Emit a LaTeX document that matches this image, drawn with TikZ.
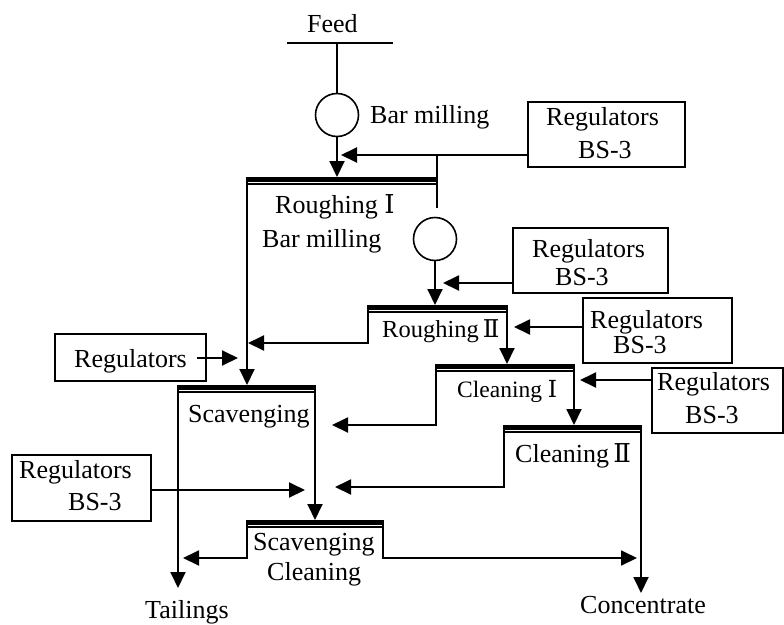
\documentclass[tikz,border=0pt]{standalone}
\usepackage{fontspec}
\setmainfont{Liberation Serif}
\newfontfamily\romfont{DejaVu Serif}
\usetikzlibrary{arrows.meta}
\newcommand\flotcell[4]{%
  \coordinate (#1l) at (#2,#4);
  \coordinate (#1r) at (#3,#4);
  \fill (#2-0.9,#4) rectangle (#3+0.9,#4+5);
  \draw[thinbar] (#2,#4+7) -- (#3,#4+7);}
\begin{document}
\begin{tikzpicture}[x=1pt,y=-1pt,
  flow/.style={line width=1.9pt},
  arr/.style={flow,-{Triangle[length=16pt,width=15pt]}},
  lbl/.style={anchor=base west,inner sep=0pt,font=\fontsize{26}{30}\selectfont},
  slbl/.style={lbl,font=\fontsize{24.5}{28}\selectfont},
  regbox/.style={draw,line width=1.9pt,inner sep=0pt},
  mill/.style={draw,circle,line width=1.6pt,minimum size=43pt,inner sep=0pt},
  thinbar/.style={line width=1.2pt}]
\useasboundingbox (0,0) rectangle (784,624);

% feed
\coordinate (fl) at (287,43); \coordinate (fr) at (393,43); \coordinate (ftop) at (337,43);
\draw[flow] (fl) -- (fr);
\node[lbl] (tfeed) at (307,32) {Feed};
\node[mill] (m1) at (337,115) {};
\draw[flow] (ftop) -- (m1.north);
\node[lbl] (tbm1) at (370,123) {Bar milling};

% cells
\flotcell{r1}{247}{437}{177}
\flotcell{r2}{368}{507}{305}
\flotcell{c1}{436}{574}{364}
\flotcell{c2}{504}{641}{425}
\flotcell{s}{178}{315}{385}
\flotcell{sc}{247}{383}{520}

\node[lbl] (tr1) at (275,213) {Roughing {\romfont Ⅰ}};
\node[lbl] (tbm2) at (262,247) {Bar milling};
\node[slbl] (tr2) at (382,337) {Roughing\,{\romfont Ⅱ}};
\node[slbl,font=\fontsize{23.5}{27}\selectfont] (tc1) at (457,397) {Cleaning {\romfont Ⅰ}};
\node[lbl] (tc2) at (515,462) {Cleaning\,{\romfont Ⅱ}};
\node[lbl] (ts) at (188,422) {Scavenging};
\node[lbl] (tsc1) at (253,550) {Scavenging};
\node[lbl] (tsc2) at (267,580) {Cleaning};
\node[lbl] (ttail) at (145,618) {Tailings};
\node[lbl] (tconc) at (580,613) {Concentrate};

% regulator boxes
\node[regbox,minimum width=157pt,minimum height=65pt] (b1) at (606.5,134.5) {};
\node[lbl] (b1a) at (546,125) {Regulators};
\node[lbl] (b1b) at (578,158) {BS-3};
\node[regbox,minimum width=155pt,minimum height=65pt] (b2) at (590.5,260.5) {};
\node[lbl] (b2a) at (532,257) {Regulators};
\node[lbl] (b2b) at (555,285) {BS-3};
\node[regbox,minimum width=149pt,minimum height=65pt] (b3) at (657.5,330.5) {};
\node[lbl] (b3a) at (590,328) {Regulators};
\node[lbl] (b3b) at (613,353) {BS-3};
\node[regbox,minimum width=131pt,minimum height=65pt] (b4) at (717.5,400.5) {};
\node[lbl] (b4a) at (657,390) {Regulators};
\node[lbl] (b4b) at (685,423) {BS-3};
\node[regbox,minimum width=151pt,minimum height=47pt] (b0) at (130.5,357.5) {};
\node[lbl] (b0a) at (74,367) {Regulators};
\node[regbox,minimum width=139pt,minimum height=66pt] (b5) at (81.5,488) {};
\node[lbl] (b5a) at (19,478) {Regulators};
\node[lbl] (b5b) at (68,510) {BS-3};

% roughing I feed
\coordinate (r1in) at (337,177);
\draw[arr] (m1.south) -- (r1in);
\coordinate (b1o) at (528,155); \coordinate (b1t) at (341,155);
\draw[arr] (b1o) -- (b1t);
\coordinate (r1rt) at (437,155); \coordinate (r1rb) at (437,208);
\draw[flow] (r1rt) -- (r1rb);

% roughing II feed
\node[mill] (m2) at (435,239) {};
\coordinate (r2in) at (435,305);
\draw[arr] (m2.south) -- (r2in);
\coordinate (b2o) at (513,283); \coordinate (b2t) at (443,283);
\draw[arr] (b2o) -- (b2t);

% roughing I tails to scavenging
\coordinate (sin) at (247,385);
\draw[arr] (r1l) -- (sin);
% roughing II tails
\coordinate (r2lb) at (368,343); \coordinate (r2t) at (248,343);
\draw[arr] (r2l) -- (r2lb) -- (r2t);
% roughing II conc
\coordinate (c1in) at (507,364);
\draw[arr] (r2r) -- (c1in);
\coordinate (b3o) at (583,327); \coordinate (b3t) at (514,327);
\draw[arr] (b3o) -- (b3t);
% regulators to scavenging
\coordinate (b0o) at (197,358); \coordinate (b0t) at (238,358);
\draw[arr] (b0o) -- (b0t);
% cleaning I
\coordinate (c2in) at (574,425);
\draw[arr] (c1r) -- (c2in);
\coordinate (b4o) at (652,380); \coordinate (b4t) at (580,380);
\draw[arr] (b4o) -- (b4t);
\coordinate (c1lb) at (436,425); \coordinate (c1t) at (332,425);
\draw[arr] (c1l) -- (c1lb) -- (c1t);
% scavenging
\coordinate (scin) at (315,520);
\draw[arr] (sr) -- (scin);
\coordinate (tail) at (178,588);
\draw[arr] (sl) -- (tail);
\coordinate (b5o) at (151,490); \coordinate (b5t) at (305,490);
\draw[arr] (b5o) -- (b5t);
% cleaning II
\coordinate (c2lb) at (504,487); \coordinate (c2t) at (335,487);
\draw[arr] (c2l) -- (c2lb) -- (c2t);
\coordinate (conc) at (641,593);
\draw[arr] (c2r) -- (conc);
% scavenging cleaning
\coordinate (sclb) at (247,558); \coordinate (sclt) at (183,558);
\draw[arr] (scl) -- (sclb) -- (sclt);
\coordinate (scrb) at (383,558); \coordinate (scrt) at (637,558);
\draw[arr] (scr) -- (scrb) -- (scrt);
\end{tikzpicture}
\end{document}
